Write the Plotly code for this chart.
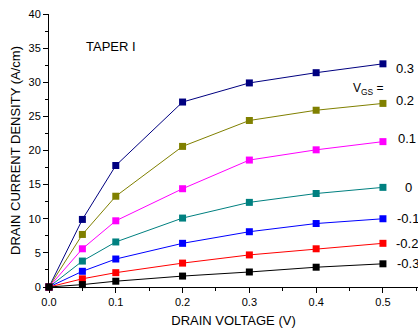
import plotly.graph_objects as go

# Drain voltage sweep (V)
vds = [0.0, 0.05, 0.1, 0.2, 0.3, 0.4, 0.5]

# Gate voltage of each curve and its drain current density (A/cm)
vgs_labels = ["0.3", "0.2", "0.1", "0", "-0.1", "-0.2", "-0.3"]
j_p03 = [0.0, 9.9, 17.8, 27.1, 29.9, 31.4, 32.7]
j_p02 = [0.0, 7.7, 13.3, 20.6, 24.4, 25.9, 26.9]
j_p01 = [0.0, 5.6, 9.7, 14.4, 18.6, 20.1, 21.3]
j_0 = [0.0, 3.8, 6.6, 10.1, 12.4, 13.7, 14.6]
j_m01 = [0.0, 2.3, 4.1, 6.4, 8.1, 9.3, 10.0]
j_m02 = [0.0, 1.2, 2.1, 3.5, 4.7, 5.6, 6.4]
j_m03 = [0.0, 0.35, 0.85, 1.6, 2.2, 2.9, 3.4]

series = [j_p03, j_p02, j_p01, j_0, j_m01, j_m02, j_m03]
colors = ["#000080", "#808000", "#FF00FF", "#008080", "#0000FF", "#FF0000", "#000000"]

fig = go.Figure()
for vals, col in zip(series, colors):
    fig.add_trace(go.Scatter(
        x=vds, y=vals, mode="lines+markers",
        line=dict(color=col, width=1),
        marker=dict(symbol="square", size=7, color=col),
        showlegend=False, cliponaxis=False,
    ))

# V_GS value beside the end of each curve
label_dx = [0, 0, 2, 9, 1, 0, 1]
label_dy = [-5, 3, 3, 0, 0, 0, 0]
for lab, vals, dx, dy in zip(vgs_labels, series, label_dx, label_dy):
    fig.add_annotation(x=vds[-1], y=vals[-1], text=lab, showarrow=False,
                       xanchor="left", yanchor="middle", xshift=11 + dx, yshift=dy,
                       font=dict(size=13, color="#000000", family="Arial, Liberation Sans"))

fig.add_annotation(x=0.4525, y=29.0, text="V<sub>GS</sub> =", showarrow=False,
                   xanchor="left", yanchor="middle",
                   font=dict(size=12, color="#000000", family="Arial, Liberation Sans"))
fig.add_annotation(x=0.052, y=35.3, text="TAPER I", showarrow=False,
                   xanchor="left", yanchor="middle",
                   font=dict(size=13, color="#000000", family="Arial, Liberation Sans"))

axis_common = dict(
    showline=True, linecolor="#000000", linewidth=1, mirror=False,
    showgrid=False, zeroline=False, ticks="outside", ticklen=5, tickwidth=1,
    tickcolor="#000000",
    tickfont=dict(size=11, color="#000000", family="Arial, Liberation Sans"),
)

fig.update_layout(
    width=418, height=333,
    margin=dict(l=49, r=0, t=14, b=46),
    paper_bgcolor="white", plot_bgcolor="white",
    font=dict(family="Arial, Liberation Sans", color="#000000"),
    xaxis=dict(range=[0, 0.5525], dtick=0.1, tickformat=".1f",
               title=dict(text="DRAIN VOLTAGE (V)", standoff=8,
                          font=dict(size=13, color="#000000")),
               minor=dict(dtick=0.05, ticks="outside", ticklen=3,
                          tickcolor="#000000", showgrid=False),
               **axis_common),
    yaxis=dict(range=[0, 40], dtick=5,
               title=dict(text="DRAIN CURRENT DENSITY (A/cm)", standoff=4,
                          font=dict(size=13, color="#000000")),
               minor=dict(dtick=2.5, ticks="outside", ticklen=3,
                          tickcolor="#000000", showgrid=False),
               **axis_common),
)

fig.write_html("out.html")
